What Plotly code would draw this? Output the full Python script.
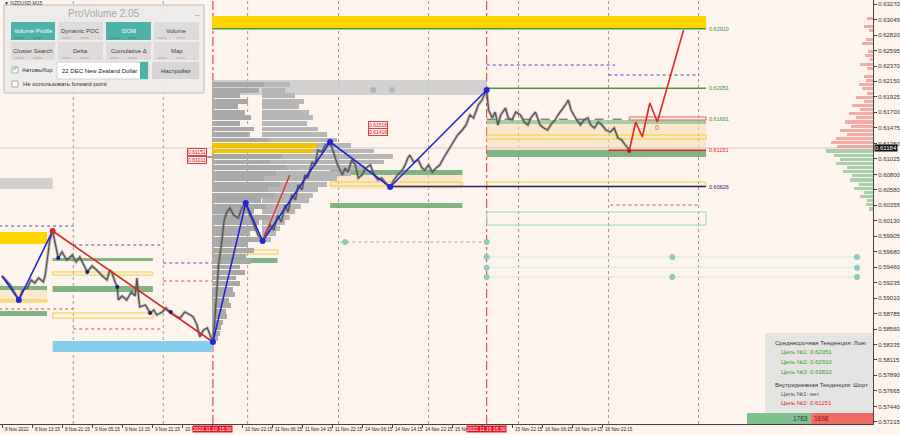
import plotly.graph_objects as go

# ================= DATA =================
# price path (M15 bar index, price)
price_bars = [0, 4, 9, 13, 18, 22, 27, 31, 35, 39, 44, 46, 49, 51, 54, 57, 60, 64, 69, 75,
              79, 83, 87, 91, 96, 101, 107, 112, 115, 117, 121, 123, 124, 128, 133, 138, 142, 144, 146, 147,
              153, 158, 162, 165, 171, 175, 179, 185, 190, 195, 201, 204, 208, 211, 215, 219, 222, 225,
              227, 229, 231, 234, 237, 240, 243, 247, 252, 256, 260, 263, 267, 270, 273, 276, 278, 282, 286, 290,
              294, 298, 302, 305, 309, 313, 316, 320, 323, 326, 331, 334, 337, 341, 345, 350, 353, 356, 358, 363,
              366, 369, 373, 377, 380, 384, 388, 393, 397, 401, 405, 409, 414, 418, 422, 427, 430, 433, 435, 439,
              444, 448, 451, 455, 459, 463, 467, 471, 476, 479, 483, 486, 491, 495, 499, 503, 508, 512, 517,
              519, 523, 526, 529, 532, 537, 540, 544, 548, 553, 557, 561, 564, 569, 572, 574, 578, 582, 586, 590,
              593, 597, 601, 604, 607, 610, 613, 617, 621, 625, 628, 632, 636, 640, 644, 649, 653, 657, 661, 665,
              668, 670]
price_vals = [0.59330, 0.59272, 0.59199, 0.59098, 0.58982, 0.59127, 0.59156, 0.59272, 0.59228, 0.59301,
              0.59243, 0.59330, 0.59663, 0.59851, 0.59982, 0.59779, 0.59590, 0.59677, 0.59561, 0.59634,
              0.59532, 0.59605, 0.59489, 0.59388, 0.59475, 0.59417, 0.59330, 0.59272, 0.59417, 0.59388,
              0.59228, 0.59170, 0.58982, 0.59040, 0.58982, 0.59098, 0.59040, 0.59301, 0.58982, 0.58881,
              0.58910, 0.58794, 0.58837, 0.58765, 0.58808, 0.58866, 0.58808, 0.58750, 0.58721, 0.58808,
              0.58765, 0.58736, 0.58620, 0.58446, 0.58547, 0.58576, 0.58475, 0.58373,
              0.58692, 0.59127, 0.59489, 0.59779, 0.60141, 0.60257, 0.60315, 0.60213, 0.60170, 0.60315,
              0.60387, 0.60257, 0.60141, 0.60025, 0.59924, 0.59880, 0.59837, 0.59967, 0.60068, 0.59996,
              0.60213, 0.60112, 0.60358, 0.60257, 0.60503, 0.60431, 0.60648, 0.60576, 0.60793, 0.60749,
              0.60981, 0.60938, 0.61155, 0.61126, 0.61227, 0.61271, 0.61155, 0.61039, 0.60938, 0.60793,
              0.60894, 0.60836, 0.61010, 0.60938, 0.60749, 0.60793, 0.60894, 0.60938, 0.60793, 0.60720,
              0.60749, 0.60677, 0.60619, 0.60720, 0.60793, 0.60865, 0.60938, 0.61039, 0.61083, 0.60981,
              0.61010, 0.60894, 0.60865, 0.60938, 0.60836, 0.60894, 0.60938, 0.61039, 0.61155, 0.61227,
              0.61300, 0.61372, 0.61445, 0.61517, 0.61662, 0.61619, 0.61807, 0.61879, 0.62024,
              0.61734, 0.61619, 0.61705, 0.61517, 0.61662, 0.61763, 0.61619, 0.61590, 0.61705, 0.61662,
              0.61561, 0.61517, 0.61619, 0.61705, 0.61590, 0.61517, 0.61474, 0.61445, 0.61532, 0.61590,
              0.61662, 0.61734, 0.61807, 0.61879, 0.61734, 0.61662, 0.61590, 0.61517, 0.61590, 0.61619,
              0.61517, 0.61474, 0.61561, 0.61517, 0.61445, 0.61416, 0.61474, 0.61329, 0.61300, 0.61227,
              0.61184, 0.61141]

current_price = 0.61184

zz1_bars = [0, 18, 54]
zz1_vals = [0.59330, 0.58982, 0.59982]
trend_bars = [54, 225]
trend_vals = [0.59982, 0.58373]
zz2_bars = [225, 260, 278, 350, 414, 517]
zz2_vals = [0.58373, 0.60387, 0.59837, 0.61271, 0.60619, 0.62024]
red_seg_bars = [278, 307]
red_seg_vals = [0.59837, 0.60793]
proj_bars = [669, 676, 683, 691, 699, 727]
proj_vals = [0.61141, 0.61561, 0.61343, 0.61836, 0.61561, 0.62893]

pivot_blue_bars = [18, 225, 260, 278, 350, 414, 517]
pivot_blue_vals = [0.58982, 0.58373, 0.60387, 0.59837, 0.61271, 0.60619, 0.62024]
pivot_red_bars = [54]
pivot_red_vals = [0.59982]
minor_piv_bars = [60, 91, 123, 158, 180]
minor_piv_vals = [0.59590, 0.59388, 0.59170, 0.58794, 0.58808]

# volume profiles
vp1_start = 224
vp1_top, vp1_step = 0.6210, 0.0008
vp1_volume = [55, 50, 30, 38, 28, 35, 42, 30, 45, 40, 60, 112, 108, 75, 62, 80, 68, 55, 72, 60,
              66, 52, 58, 45, 62, 50, 48, 40, 52, 38, 45, 36, 42, 30, 35, 26, 30, 22, 25, 18,
              20, 15, 16, 12, 10, 8, 6]
vp2_start = 277
vp2_volume = [30, 25, 35, 45, 40, 50, 55, 48, 60, 70, 80, 95, 120, 140, 130, 110, 95, 80, 70, 60,
              55, 50, 42, 35, 30, 25, 20, 15, 10]
rp_top, rp_step = 0.6306, 0.0006
rp_volume = [6, 0, 10, 4, 0, 8, 12, 0, 5, 9, 3, 14, 6, 0, 10, 8, 15, 12, 6, 18,
             10, 22, 14, 26, 18, 30, 24, 35, 28, 40, 45, 38,
             50, 42, 35, 40, 28, 32, 22, 25, 15, 20, 10, 14, 6, 8, 4]

# filled zones: x0, x1, low, high, kind
zone_x0 = [224, -3, 224, -3, 54, 517, 517, 517, 350, 350, 350, 54, 54, -3, -3, -3, 227, 224]
zone_x1 = [751, 48, 517, 54, 225, 751, 751, 751, 491, 491, 491, 161, 161, 48, 48, 48, 294, 257]
zone_lo = [0.62908, 0.59793, 0.61952, 0.60590, 0.58229, 0.61155, 0.61054, 0.61532, 0.60590, 0.60793,
           0.60315, 0.59547, 0.59098, 0.59127, 0.58750, 0.58953, 0.59518, 0.60170]
zone_hi = [0.63096, 0.59967, 0.62169, 0.60749, 0.58388, 0.61561, 0.61155, 0.61590, 0.60793, 0.60865,
           0.60387, 0.59590, 0.59185, 0.59185, 0.58822, 0.59127, 0.59590, 0.60358]
zone_kind = ['gold', 'gold', 'gray', 'gray', 'sky', 'peach', 'green', 'lgreen', 'peach', 'green',
             'green', 'green', 'green', 'green', 'green', 'peach', 'green', 'steel']

# outlined boxes
box_x0 = [54, 54, 517, 517, -3, 350, 227, 669, 517]
box_x1 = [161, 161, 751, 751, 48, 491, 294, 751, 751]
box_lo = [0.59344, 0.58721, 0.61314, 0.60633, 0.58953, 0.60633, 0.59648, 0.61590, 0.60068]
box_hi = [0.59388, 0.58794, 0.61372, 0.60691, 0.58982, 0.60691, 0.59706, 0.61633, 0.60257]
box_kind = ['yellow', 'yellow', 'yellow', 'yellow', 'yellow', 'yellow', 'yellow', 'red', 'teal']

# horizontal levels
lvl_x0 = [224, 517, 517, 647, 414, 517, 647, -3, 76, 172, -3, 76, 172, 361, 649, 219, -3, 517, 517, 517]
lvl_x1 = [751, 751, 669, 751, 751, 654, 744, 76, 172, 225, 76, 172, 225, 517, 744, 350, 929, 912, 912, 912]
lvl_price = [0.62910, 0.62051, 0.61601, 0.61151, 0.60626, 0.62386, 0.62241, 0.60054, 0.59779, 0.59518,
             0.58852, 0.58562, 0.59257, 0.59822, 0.60358, 0.61054, 0.61184, 0.59605, 0.59450, 0.59316]
lvl_kind = ['green', 'green', 'darkdash', 'red', 'navy', 'bluedot', 'bluedot', 'navydot', 'navydot', 'navydot',
            'reddot', 'reddot', 'reddot', 'graydot', 'reddot', 'brown', 'price', 'faint', 'faint', 'faint']

level_labels = ['0.62910', '0.62051', '0.61601', '0.61151', '0.60626']
level_label_prices = [0.62910, 0.62051, 0.61601, 0.61151, 0.60626]
level_label_kind = ['green', 'green', 'green', 'red', 'navy']

dot_bars = [366, 517, 517, 517, 517, 715, 715, 912, 912, 912]
dot_vals = [0.59822, 0.59822, 0.59605, 0.59450, 0.59316, 0.59605, 0.59316, 0.59605, 0.59450, 0.59316]
gdot_bars = [396, 416]
gdot_vals = [0.62024, 0.62024]

day_sep_bars = [76, 172, 262, 359, 455, 551, 647, 743]
event_bars = [225, 517]
event_labels = ['2022.11.10 15:30', '2022.11.15 15:30']

# time-axis labels (the two that sit fully under the red event tags are not visible and are left out)
tick_bars = [0, 32, 64, 96, 128, 160, 192, 224, 256, 288, 320, 352, 384, 416, 448, 480, 512, 544, 576, 608, 640]
tick_labels = ['8 Nov 2022', '8 Nov 13:15', '8 Nov 21:15', '9 Nov 05:15', '9 Nov 13:15', '9 Nov 21:15',
               '10 Nov 05:15', '', '10 Nov 22:15', '11 Nov 06:15', '11 Nov 14:15', '11 Nov 22:15',
               '14 Nov 06:15', '14 Nov 14:15', '14 Nov 22:15', '15 Nov 06:15', '', '15 Nov 22:15',
               '16 Nov 06:15', '16 Nov 14:15', '16 Nov 22:15']
y_ticks = [0.63270, 0.63045, 0.62820, 0.62595, 0.62370, 0.62150, 0.61925, 0.61700, 0.61475, 0.61250,
           0.61025, 0.60800, 0.60580, 0.60355, 0.60130, 0.59905, 0.59680, 0.59460, 0.59235, 0.59010,
           0.58785, 0.58560, 0.58335, 0.58115, 0.57890, 0.57665, 0.57440, 0.57215]

red_tags = ['0.61151', '0.61011', '0.61516', '0.61416']
red_tag_bars = [219, 219, 412, 412]
red_tag_vals = [0.61126, 0.61010, 0.61517, 0.61416]

info_lines = ['Среднесрочная Тенденция: Лонг', 'Цель №1: 0.62051', 'Цель №2: 0.62910', 'Цель №3: 0.63810',
              'Внутридневная Тенденция: Шорт', 'Цель №1: нет', 'Цель №2: 0.61151']
info_kind = ['head', 'green', 'green', 'green', 'head', 'gray', 'red']
buy_count, sell_count = 1763, 1698

buttons = ['Volume Profile', 'Dynamic POC', 'DOM', 'Volume', 'Cluster Search', 'Delta', 'Cumulative Δ', 'Map']
buttons_active = [True, False, True, False, False, False, False, False]

# ================= STYLE / LAYOUT =================
BG = '#fdf4ee'
FONT = 'Liberation Sans'
W_PLOT, H_PLOT = 873, 424
X_MIN, X_MAX = -2.13, 929.07
Y_MIN, Y_MAX = 0.571855, 0.63328


def PX(x):
    return x / W_PLOT


def PY(y):
    return 1 - y / H_PLOT


zone_style = {'gold': '#ffd500', 'gray': 'rgba(200,200,200,0.8)', 'sky': '#87cdeb',
              'peach': 'rgba(250,220,175,0.55)', 'green': 'rgba(108,168,112,0.85)',
              'lgreen': 'rgba(140,195,140,0.75)', 'steel': 'rgba(150,185,215,0.55)'}
box_style = {'yellow': '#f0d040', 'red': '#e06060', 'teal': '#95d3cb'}
line_style = {'green': ('#4a9a3a', 1.5, 'solid'), 'red': ('#e02828', 1.5, 'solid'),
              'navy': ('#26266e', 1.5, 'solid'), 'darkdash': ('#505050', 1, 'dash'),
              'bluedot': ('#4040d0', 1, 'dot'), 'navydot': ('#5050a0', 1, 'dot'),
              'reddot': ('#d05050', 1, 'dot'), 'graydot': ('#a0a0a0', 1, 'dot'),
              'brown': ('#8b2020', 1, 'solid'), 'price': ('#cfcfcf', 1, 'solid'),
              'faint': ('#dbe8e4', 1, 'solid')}
label_color = {'green': '#3f8f30', 'red': '#e02828', 'navy': '#26266e'}
info_color = {'head': '#333333', 'green': '#3f9a30', 'gray': '#555555', 'red': '#e02828'}

fig = go.Figure()
shapes = []
annotations = []


def ptext(x, y, text, size=6, color='#333', anchor='left', family=FONT):
    annotations.append(dict(x=PX(x), y=PY(y), xref='paper', yref='paper', text=text, showarrow=False,
                            xanchor=anchor, yanchor='middle', font=dict(family=family, size=size, color=color)))


def prect(x0, x1, y0, y1, fill, line_color=None):
    shapes.append(dict(type='rect', xref='paper', yref='paper', x0=PX(x0), x1=PX(x1), y0=PY(y1), y1=PY(y0),
                       fillcolor=fill, line=dict(width=1 if line_color else 0, color=line_color or fill),
                       layer='above'))


for x0, x1, lo, hi, k in zip(zone_x0, zone_x1, zone_lo, zone_hi, zone_kind):
    shapes.append(dict(type='rect', xref='x', yref='y', x0=x0, x1=x1, y0=lo, y1=hi,
                       fillcolor=zone_style[k], line=dict(width=0), layer='below'))
for x0, x1, lo, hi, k in zip(box_x0, box_x1, box_lo, box_hi, box_kind):
    shapes.append(dict(type='rect', xref='x', yref='y', x0=x0, x1=x1, y0=lo, y1=hi,
                       fillcolor='rgba(0,0,0,0)', line=dict(width=1, color=box_style[k]), layer='below'))
for x0, x1, p, k in zip(lvl_x0, lvl_x1, lvl_price, lvl_kind):
    c, w, d = line_style[k]
    shapes.append(dict(type='line', xref='x', yref='y', x0=x0, x1=x1, y0=p, y1=p,
                       line=dict(color=c, width=w, dash=d), layer='below'))
for b in day_sep_bars:
    shapes.append(dict(type='line', xref='x', yref='paper', x0=b, x1=b, y0=0, y1=1,
                       line=dict(color='#9a9a9a', width=1, dash='dot'), layer='below'))
for b in event_bars:
    shapes.append(dict(type='line', xref='x', yref='paper', x0=b, x1=b, y0=0, y1=1,
                       line=dict(color='#e03030', width=1, dash='dashdot'), layer='below'))

# volume profiles
vp1_prices = [vp1_top - i * vp1_step for i in range(len(vp1_volume))]
vp2_prices = [vp1_top - i * vp1_step for i in range(len(vp2_volume))]
vmax = max(vp1_volume)
vp1_colors = ['#f2c200' if v >= 0.9 * vmax else '#a9a9a9' for v in vp1_volume]
fig.add_trace(go.Bar(orientation='h', y=vp2_prices, x=vp2_volume, base=vp2_start, width=0.0007,
                     marker=dict(color='#b6b6b6', line=dict(width=0)), hoverinfo='skip'))
fig.add_trace(go.Bar(orientation='h', y=vp1_prices, x=vp1_volume, base=vp1_start, width=0.0007,
                     marker=dict(color=vp1_colors, line=dict(width=0)), hoverinfo='skip'))
rp_prices = [rp_top - i * rp_step for i in range(len(rp_volume))]
rp_colors = ['rgba(240,110,110,0.55)' if p > current_price else 'rgba(100,175,115,0.55)' for p in rp_prices]
fig.add_trace(go.Bar(orientation='h', y=rp_prices, x=[-v for v in rp_volume], base=X_MAX, width=0.00045,
                     marker=dict(color=rp_colors, line=dict(width=0)), hoverinfo='skip'))

# price
fig.add_trace(go.Scatter(x=price_bars, y=price_vals, mode='lines',
                         line=dict(color='rgba(120,120,120,0.45)', width=3)))
fig.add_trace(go.Scatter(x=price_bars, y=price_vals, mode='lines', line=dict(color='#555555', width=1.3)))

# zigzags
fig.add_trace(go.Scatter(x=zz1_bars, y=zz1_vals, mode='lines', line=dict(color='#2323d8', width=1.6)))
fig.add_trace(go.Scatter(x=zz2_bars, y=zz2_vals, mode='lines', line=dict(color='#2323d8', width=1.6)))
fig.add_trace(go.Scatter(x=trend_bars, y=trend_vals, mode='lines', line=dict(color='#d82828', width=1.6)))
fig.add_trace(go.Scatter(x=red_seg_bars, y=red_seg_vals, mode='lines', line=dict(color='#e03030', width=1.4)))
fig.add_trace(go.Scatter(x=proj_bars, y=proj_vals, mode='lines', line=dict(color='#e02828', width=1.6)))
fig.add_trace(go.Scatter(x=pivot_blue_bars, y=pivot_blue_vals, mode='markers',
                         marker=dict(color='#2323e0', size=6)))
fig.add_trace(go.Scatter(x=pivot_red_bars, y=pivot_red_vals, mode='markers',
                         marker=dict(color='#e02020', size=6)))
fig.add_trace(go.Scatter(x=minor_piv_bars, y=minor_piv_vals, mode='markers',
                         marker=dict(color='#1a1a80', size=4)))
fig.add_trace(go.Scatter(x=proj_bars[:1], y=proj_vals[:1], mode='markers',
                         marker=dict(color='#c01010', size=4)))
fig.add_trace(go.Scatter(x=dot_bars, y=dot_vals, mode='markers', marker=dict(color='#92c9bf', size=6)))
fig.add_trace(go.Scatter(x=gdot_bars, y=gdot_vals, mode='markers', marker=dict(color='#a8b8b4', size=6)))

# level labels
for t, p, k in zip(level_labels, level_label_prices, level_label_kind):
    annotations.append(dict(x=752, y=p, xref='x', yref='y', text=t, showarrow=False, xanchor='left',
                            yanchor='middle', font=dict(family=FONT, size=5.5, color=label_color[k])))
annotations.append(dict(x=proj_bars[4], y=0.61474, xref='x', yref='y', text='0', showarrow=False,
                        xanchor='center', yanchor='middle', font=dict(family=FONT, size=7, color='#e05050')))
for t, b, p in zip(red_tags, red_tag_bars, red_tag_vals):
    annotations.append(dict(x=b, y=p, xref='x', yref='y', text=t, showarrow=False, xanchor='right',
                            yanchor='middle', bgcolor='rgba(255,235,235,0.9)', bordercolor='#e04040',
                            borderwidth=1, borderpad=0, font=dict(family=FONT, size=5, color='#d02020')))

# x tick labels
for b, t in zip(tick_bars, tick_labels):
    if not t:
        continue
    annotations.append(dict(x=b, y=0, xref='x', yref='paper', text=t, showarrow=False, xanchor='left',
                            yanchor='top', xshift=1, yshift=-1, font=dict(family=FONT, size=4.6, color='#222')))
for b, t in zip(event_bars, event_labels):
    annotations.append(dict(x=b, y=0, xref='x', yref='paper', text=t, showarrow=False, xanchor='center',
                            yanchor='top', yshift=-1, bgcolor='#e8161e', borderpad=0,
                            font=dict(family=FONT, size=5, color='white')))

# current price tag
annotations.append(dict(x=1, y=current_price, xref='paper', yref='y', text=f'{current_price:.5f}',
                        showarrow=False, xanchor='left', yanchor='middle', xshift=1, bgcolor='#111111',
                        borderpad=0, font=dict(family=FONT, size=6, color='white')))

# info box
prect(765, 873, 333, 413, 'rgba(226,226,226,0.92)')
info_y = [343, 352, 362, 372, 385, 394, 403]
for t, k, yy in zip(info_lines, info_kind, info_y):
    ptext(773 if k == 'head' else 779, yy, t, 6, info_color[k])

# buy/sell bar
tot = buy_count + sell_count
bx0, bx1 = 747, 873
bmid = bx0 + (bx1 - bx0) * buy_count / tot
prect(bx0, bmid, 413, 424, '#80bf8e')
prect(bmid, bx1, 413, 424, '#f26a64')
ptext(bmid - 1, 418.5, str(buy_count), 6.5, '#333', 'right')
ptext(bmid + 1, 418.5, str(sell_count), 6.5, '#8a1010', 'left')

# top-left label and panel
ptext(2, 3, '▼ NZDUSD,M15', 5, '#333')
prect(4, 204, 5, 93, 'rgba(236,235,233,0.96)', '#bcbcbc')
ptext(104, 13, 'ProVolume 2.05', 10, '#a8a8a8', 'center')
ptext(197, 12, '_', 8, '#888', 'center')
col_x = [(11, 55), (58, 103), (106, 151), (154, 199)]
row_y = [(22, 40), (42, 60)]
for i, (name, act) in enumerate(zip(buttons, buttons_active)):
    cx0, cx1 = col_x[i % 4]
    ry0, ry1 = row_y[i // 4]
    prect(cx0, cx1, ry0, ry1, '#4db3a8' if act else '#dedcda')
    shapes.append(dict(type='line', xref='paper', yref='paper', x0=PX(cx0 + 4), x1=PX(cx1 - 4),
                       y0=PY(ry1 - 2), y1=PY(ry1 - 2),
                       line=dict(color='#3d8f86' if act else '#c9a6a6', width=1, dash='dash'), layer='above'))
    ptext((cx0 + cx1) / 2, (ry0 + ry1) / 2, name, 6, 'white' if act else '#3a3a3a', 'center')
# checkbox 1
prect(12, 18, 67, 73, 'white', '#aaa')
ptext(15, 69.5, '✓', 7, '#3aa898', 'center', 'DejaVu Sans')
ptext(20, 70, 'Автовыбор', 6, '#333')
# dropdown
prect(57, 148, 62, 79, 'white', '#cfcfcf')
prect(140, 148, 62, 79, '#4db3a8')
ptext(60, 71, '22 DEC New Zealand Dollar', 6, '#222')
prect(152, 199, 62, 79, '#d8d6d4')
ptext(175.5, 71, 'Настройки', 6, '#333', 'center')
# checkbox 2
prect(12, 18, 81, 87, 'white', '#aaa')
ptext(21, 84, 'Не использовать forward-point', 6, '#333')

fig.update_layout(
    width=900, height=435,
    margin=dict(l=0, r=27, t=0, b=11, autoexpand=False),
    plot_bgcolor=BG, paper_bgcolor=BG,
    showlegend=False, barmode='overlay', bargap=0,
    shapes=shapes, annotations=annotations,
    xaxis=dict(range=[X_MIN, X_MAX], showgrid=False, zeroline=False, showline=True, linecolor='#444',
               linewidth=1, tickvals=tick_bars, ticks='outside', ticklen=3, tickcolor='#444',
               showticklabels=False, fixedrange=True),
    yaxis=dict(range=[Y_MIN, Y_MAX], side='right', showgrid=False, zeroline=False, showline=True,
               linecolor='#444', linewidth=1, tickvals=y_ticks, ticktext=[f'{v:.5f}' for v in y_ticks],
               ticks='outside', ticklen=3, tickcolor='#444',
               tickfont=dict(family=FONT, size=6, color='#333'), fixedrange=True),
)

fig.write_html('out.html', config={'displayModeBar': False},
               post_script="document.body.style.margin='0';document.body.style.background='" + BG + "';")
